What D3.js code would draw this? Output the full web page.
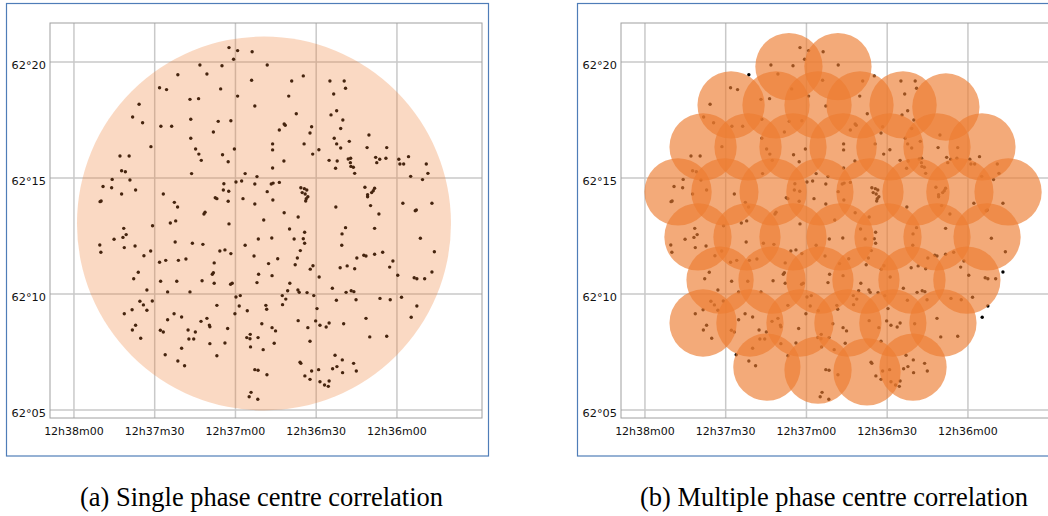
<!DOCTYPE html>
<html><head><meta charset="utf-8">
<script src="https://cdn.jsdelivr.net/npm/d3@7"></script>
<style>body{margin:0;background:#fff} svg{display:block}</style>
</head><body>
<svg id="c" width="1048" height="516"></svg>
<script>
// RA given as seconds of time east of 12h36m00, Dec as arcmin north of 62°00'
const raTicks = [120, 90, 60, 30, 0];
const raTickLabels = ["12h38m00","12h37m30","12h37m00","12h36m30","12h36m00"];
const decTicks = [5, 10, 15, 20];
const decTickLabels = ["62°05","62°10","62°15","62°20"];
const raExtent = [128.9, -31.6];
const decExtent = [4.655, 21.68];

const sources = [
[62.4,20.62],[59.2,20.49],[53.8,20.44],[60.7,20.12],[73.2,19.87],[65.0,19.84],[81.4,19.45],[70.6,19.48],[54.0,19.21],[88.2,18.89],
[85.6,18.81],[65.5,18.84],[59.2,18.53],[76.9,18.39],[73.7,18.42],[95.8,18.18],[52.8,18.10],[98.2,17.63],[76.6,17.53],[94.5,17.38],
[66.4,17.44],[61.7,17.47],[87.7,17.23],[83.7,17.23],[68.2,16.98],[76.6,16.71],[91.4,16.35],[74.8,16.25],[60.4,16.25],[73.6,16.03],
[64.8,16.00],[102.9,15.95],[99.5,15.95],[72.7,15.76],[62.7,15.70],[102.3,15.31],[100.9,15.27],[76.3,15.19],[56.4,15.19],[52.0,15.06],
[105.8,14.94],[99.2,14.91],[59.8,14.83],[57.7,14.87],[52.8,14.74],[109.2,14.63],[106.0,14.58],[64.3,14.75],[97.1,14.48],[64.5,14.48],
[62.5,14.43],[102.3,14.31],[86.8,14.31],[67.5,14.15],[66.9,14.11],[57.2,14.11],[110.3,13.98],[109.9,14.01],[82.7,13.95],[81.5,13.75],
[62.7,14.00],[52.8,13.88],[71.7,13.45],[71.3,13.52],[90.8,12.94],[84.2,13.06],[82.2,13.15],[62.4,13.02],[101.5,12.83],[100.6,12.56],
[101.8,12.44],[105.1,12.36],
[48.2,19.87],[39.1,19.18],[34.8,19.40],[40.2,18.53],[37.4,17.77],[41.5,17.27],[41.9,17.33],[43.7,17.07],[31.7,17.21],[32.3,16.94],
[46.2,16.47],[46.2,16.21],[34.5,16.47],[31.3,16.03],[29.0,16.22],[42.0,15.73],[46.2,15.43],[46.7,14.74],[46.0,14.78],[43.7,14.81],
[48.2,14.41],[46.1,14.05],[35.7,14.58],[34.4,14.54],[33.5,14.48],[35.2,14.37],[34.1,14.31],[33.1,14.19],[33.7,14.11],[33.9,14.01],
[41.9,13.50],[49.5,13.19],[36.7,13.32],[39.9,12.80],[34.3,12.66],[24.9,19.18],[19.6,19.18],[19.1,18.87],[23.5,18.62],[22.4,17.90],
[24.5,17.72],[20.1,17.50],[20.9,17.13],[10.4,16.85],[23.3,16.71],[22.4,16.47],[20.9,16.29],[17.7,16.58],[11.1,16.31],[3.8,16.31],
[25.2,15.76],[22.2,15.73],[18.1,15.82],[17.2,15.85],[17.3,15.66],[17.1,15.50],[16.2,15.46],[22.8,15.42],[15.7,15.20],[7.9,15.89],
[6.4,15.81],[7.5,15.66],[4.1,15.85],[-0.7,15.81],[-1.1,15.60],[-2.5,15.60],[-4.3,15.92],[-10.9,15.60],[-11.5,15.20],[-5.1,15.07],
[-9.5,14.93],[11.9,14.60],[8.3,14.56],[8.8,14.45],[9.4,14.37],[10.9,14.28],[10.9,14.19],[9.8,13.81],[6.7,13.45],[22.7,13.75],
[-2.2,13.91],[-7.2,13.62],[-6.8,13.59],[-13.0,13.91],[19.1,12.86],[20.4,12.59],[8.3,12.83],[-8.7,12.40],[46.5,12.41],[38.2,12.37],
[34.8,12.38],[51.5,12.37],
[110.4,12.11],[110.0,11.80],[101.3,12.00],[97.3,12.07],[94.0,11.65],[91.5,11.85],[82.4,12.24],[76.0,12.19],[72.1,12.14],[88.2,11.37],
[85.9,11.45],[81.2,11.45],[78.4,11.51],[65.8,11.85],[63.9,11.90],[61.7,11.74],[67.9,11.34],[56.4,12.10],[53.1,11.64],[96.1,10.94],
[97.8,10.66],[87.8,10.55],[81.8,10.55],[72.4,10.57],[68.6,10.85],[68.2,10.92],[67.9,10.46],[61.8,10.42],[61.2,10.46],[52.0,10.49],
[51.4,10.85],[92.9,10.17],[85.2,10.09],[76.9,10.09],[59.8,9.87],[58.2,9.93],[90.9,9.70],[95.5,9.69],[94.2,9.53],[92.9,9.30],
[101.3,9.15],[98.4,9.32],[82.8,9.15],[80.0,9.01],[85.2,8.89],[66.9,9.51],[58.6,9.48],[55.6,9.28],[60.2,9.15],[72.8,8.82],
[70.6,8.95],[69.7,8.66],[69.5,8.59],[62.9,8.51],[97.1,8.65],[98.3,8.45],[87.9,8.44],[86.8,8.36],[77.6,8.45],[74.9,8.36],
[95.2,8.09],[77.3,8.06],[75.5,8.06],[69.5,7.86],[63.9,7.89],[55.8,8.12],[54.6,8.07],[54.5,8.26],[51.6,8.12],[54.4,7.72],
[80.0,7.66],[86.1,7.38],[66.9,7.34],[81.4,7.11],[78.9,6.91],[52.8,6.74],[51.6,6.71],[54.2,5.76],[54.9,5.57],[51.7,5.46],
[34.3,12.19],[20.5,12.10],[44.3,11.52],[47.7,11.31],[37.8,11.26],[37.0,11.55],[35.9,11.87],[32.2,11.07],[31.2,11.22],[28.9,10.73],
[21.1,11.13],[18.5,11.21],[15.7,11.09],[14.9,11.55],[12.3,11.67],[11.5,11.64],[8.3,11.71],[5.3,11.80],[1.5,11.42],[2.7,11.16],
[-0.3,10.81],[-13.9,11.82],[-13.0,10.95],[-10.3,10.66],[-7.4,10.66],[-6.4,10.70],[46.4,10.79],[40.6,10.14],[42.6,9.93],[41.3,9.78],
[36.8,10.17],[36.3,10.07],[33.4,10.06],[30.9,9.93],[39.8,10.46],[48.7,9.51],[48.4,9.34],[29.7,9.37],[42.5,9.54],[24.0,10.25],
[22.5,9.73],[18.9,10.07],[17.0,10.14],[16.0,10.10],[15.2,9.75],[6.3,9.81],[2.5,9.75],[-1.7,9.86],[-7.4,9.48],[-5.3,9.00],
[11.5,8.95],[19.8,8.72],[25.2,8.75],[26.3,8.58],[28.6,8.65],[30.2,8.84],[33.1,8.55],[36.7,8.85],[50.2,8.72],[46.4,8.55],
[45.1,8.41],[32.3,7.96],[45.6,7.88],[49.7,7.60],[10.1,8.15],[3.8,8.18],[23.0,7.36],[20.3,7.16],[23.9,6.78],[22.3,6.87],
[20.2,6.61],[16.1,7.01],[15.1,6.68],[36.0,7.06],[35.7,7.01],[34.2,6.47],[32.3,6.32],[31.7,6.68],[29.1,6.74],[28.6,6.22],
[26.9,6.08],[25.5,6.02],[25.2,6.25],[48.3,6.52]
];

// single phase centre: [ra, dec, radius (arcmin)]
const singleBeam = [[49.4, 13.04, 8.06]];

// multiple phase centres: [ra, dec]
const beams = [
[66.5,19.8],[48.3,19.8],
[88.0,18.15],[71.3,18.15],[55.7,18.15],[40.1,18.15],[24.1,18.15],[8.2,18.06],
[98.4,16.34],[81.7,16.34],[65.0,16.34],[46.4,16.34],[29.0,16.34],[11.5,16.34],[-5.2,16.34],
[107.7,14.40],[90.3,14.40],[72.4,14.40],[55.0,14.40],[36.4,14.40],[19.3,14.40],[3.0,14.40],[-14.9,14.40],
[100.3,12.46],[82.1,12.46],[65.0,12.46],[47.5,12.46],[29.7,12.46],[11.5,12.46],[-7.1,12.46],
[92.1,10.60],[72.8,10.60],[55.0,10.60],[37.9,10.60],[20.8,10.60],[0.4,10.60],
[98.4,8.75],[81.0,8.75],[62.4,8.75],[44.6,8.75],[27.9,8.75],[9.3,8.75],
[74.7,6.85],[55.7,6.72],[37.5,6.64],[20.4,6.85]
];
const beamRadius = 1.45;

const captions = ["(a) Single phase centre correlation", "(b) Multiple phase centre correlation"];

const svg = d3.select("#c");
const W = 432, H = 395;
const x = d3.scaleLinear().domain(raExtent).range([0, W]);
const y = d3.scaleLinear().domain(decExtent).range([H, 0]);
const beamColor = "#ed7d31";

function panel(frameX, plotX, beamData, radiusOf, opacity, caption, capX, capW) {
  svg.append("rect").attr("x", frameX + 0.5).attr("y", 3.5).attr("width", 482).attr("height", 452.5)
    .attr("fill", "none").attr("stroke", "#4f7db8").attr("stroke-width", 1.2);
  const g = svg.append("g").attr("transform", `translate(${plotX},23)`);
  g.selectAll("line.vx").data(raTicks).join("line").attr("class", "vx")
    .attr("x1", d => x(d)).attr("x2", d => x(d)).attr("y1", 0).attr("y2", H)
    .attr("stroke", "#c9c9c9").attr("stroke-width", 1.5);
  g.selectAll("line.hy").data(decTicks).join("line").attr("class", "hy")
    .attr("y1", d => y(d)).attr("y2", d => y(d)).attr("x1", 0).attr("x2", W)
    .attr("stroke", "#c9c9c9").attr("stroke-width", 1.5);
  g.selectAll("text.yl").data(decTicks).join("text").attr("class", "yl")
    .attr("x", -4).attr("y", d => y(d) + 3.5).attr("dominant-baseline", "central")
    .attr("text-anchor", "end").attr("font-family", "DejaVu Sans").attr("font-size", 11.3).attr("fill", "#111")
    .text((d, i) => decTickLabels[i]);
  g.selectAll("text.xl").data(raTicks).join("text").attr("class", "xl")
    .attr("x", d => x(d)).attr("y", H + 13.5).attr("dominant-baseline", "central")
    .attr("text-anchor", "middle").attr("font-family", "DejaVu Sans").attr("font-size", 11).attr("fill", "#111")
    .text((d, i) => raTickLabels[i]);
  g.selectAll("circle.src").data(sources).join("circle").attr("class", "src")
    .attr("cx", d => x(d[0])).attr("cy", d => y(d[1])).attr("r", 1.7).attr("fill", "#000");
  g.selectAll("circle.beam").data(beamData).join("circle").attr("class", "beam")
    .attr("cx", d => x(d[0])).attr("cy", d => y(d[1])).attr("r", d => y(0) - y(radiusOf(d)))
    .attr("fill", beamColor).attr("fill-opacity", opacity);
  g.append("rect").attr("x", 0).attr("y", 0).attr("width", W).attr("height", H)
    .attr("fill", "none").attr("stroke", "#a0a0a0").attr("stroke-width", 1);
  svg.append("text").attr("x", capX).attr("y", 506).attr("text-anchor", "middle")
    .attr("font-family", "Liberation Serif, Times New Roman, serif").attr("font-size", 27.5).attr("fill", "#000")
    .attr("textLength", capW).attr("lengthAdjust", "spacingAndGlyphs")
    .text(caption);
}

panel(6, 50, singleBeam, d => d[2], 0.29, captions[0], 261.5, 363);
panel(577, 621, beams, () => beamRadius, 0.65, captions[1], 834, 388);
</script>
</body></html>
